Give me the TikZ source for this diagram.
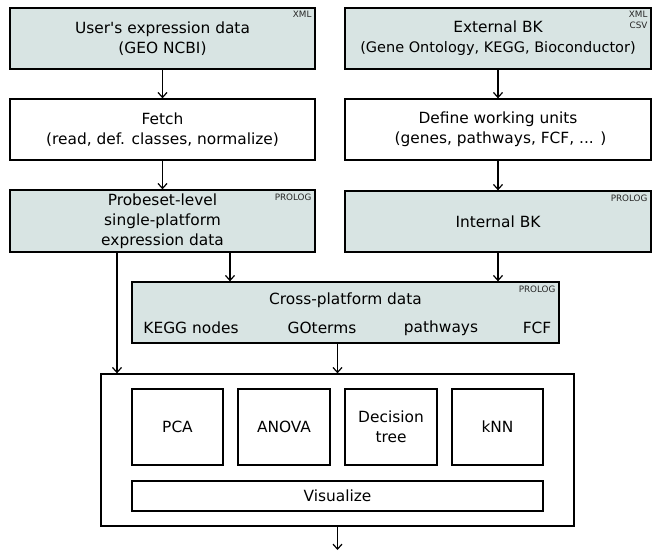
\documentclass[tikz,border=0pt]{standalone}
\usepackage{fontspec}
\setmainfont{DejaVu Sans}
\usetikzlibrary{arrows.meta}
\definecolor{boxfill}{RGB}{216,228,227}
\tikzset{
  box/.style={draw=black, line width=1.3pt, inner sep=0pt, align=center,
    font=\fontsize{15.4}{20}\selectfont},
  shaded/.style={box, fill=boxfill},
  plain/.style={box, fill=white},
  tag/.style={inner sep=0pt, align=right, font=\fontsize{8.8}{11}\selectfont, text=black!85},
  lbl/.style={inner sep=0pt, font=\fontsize{15.4}{20}\selectfont},
  arr/.style={line width=1.2pt, -{Straight Barb[length=5pt,width=9pt,line width=1.2pt]}}
}
\begin{document}
\begin{tikzpicture}[x=1pt,y=-1pt]
\useasboundingbox (0,0) rectangle (654,553);
\fill[white] (0,0) rectangle (654,553);

\node[shaded, minimum width=305pt, minimum height=61pt] (u) at (162.5,38.5) {User\textquotesingle s expression data\\(GEO NCBI)};
\node[plain, minimum width=305pt, minimum height=61pt] (f) at (162.5,129.5) {Fetch\\(read, def. classes, normalize)};
\node[shaded, minimum width=305pt, minimum height=62pt] (p) at (162.5,221) {Probeset-level\\single-platform\\expression data};

\node[shaded, minimum width=306pt, minimum height=61pt] (e) at (498,38.5) {External BK\\{\fontsize{14.5}{20}\selectfont (Gene Ontology, KEGG, Bioconductor)}};
\node[plain, minimum width=306pt, minimum height=61pt] (d) at (498,129.5) {Define working units\\\ (genes, pathways, FCF, ... )};
\node[shaded, minimum width=306pt, minimum height=61pt] (i) at (498,221.5) {Internal BK};

\node[shaded, minimum width=427pt, minimum height=61pt] (c) at (345.5,312.5) {};
\node[lbl] (ct) at (345.5,300) {Cross-platform data};
\node[lbl] (c1) at (191,328) {KEGG nodes};
\node[lbl] (c2) at (322,328) {GOterms};
\node[lbl] (c3) at (441,328) {pathways};
\node[lbl] (c4) at (537,328) {FCF};

\node[plain, minimum width=473pt, minimum height=152pt] (big) at (337.5,450) {};
\node[plain, minimum width=91pt, minimum height=76pt] (pca) at (177.5,427) {PCA};
\node[plain, minimum width=92pt, minimum height=76pt] (anova) at (284,427) {ANOVA};
\node[plain, minimum width=92pt, minimum height=76pt] (dt) at (391,427) {Decision\\tree};
\node[plain, minimum width=91pt, minimum height=76pt] (knn) at (497.5,427) {kNN};
\node[plain, minimum width=411pt, minimum height=30pt] (vis) at (337.5,496) {Visualize};

\node[tag, anchor=north east] (t1) at ([xshift=-4pt,yshift=-4pt]u.north east) {XML};
\node[tag, anchor=north east] (t2) at ([xshift=-4pt,yshift=-4pt]e.north east) {XML\\CSV};
\node[tag, anchor=north east] (t3) at ([xshift=-4pt,yshift=-4pt]p.north east) {PROLOG};
\node[tag, anchor=north east] (t4) at ([xshift=-4pt,yshift=-4pt]i.north east) {PROLOG};
\node[tag, anchor=north east] (t5) at ([xshift=-4pt,yshift=-4pt]c.north east) {PROLOG};

\coordinate (out) at (337.5,550);

\draw[arr] (u.south) -- (f.north);
\draw[arr] (f.south) -- (p.north);
\draw[arr] (e.south) -- (d.north);
\draw[arr] (d.south) -- (i.north);
\draw[arr] (i.south) -- (i.south |- c.north);
\draw[arr] ([xshift=67.5pt]p.south) -- ([xshift=67.5pt]p.south |- c.north);
\draw[arr] ([xshift=-45.5pt]p.south) -- ([xshift=-45.5pt]p.south |- big.north);
\draw[arr] (big.north |- c.south) -- (big.north);
\draw[arr] (big.south) -- (out);
\end{tikzpicture}
\end{document}
